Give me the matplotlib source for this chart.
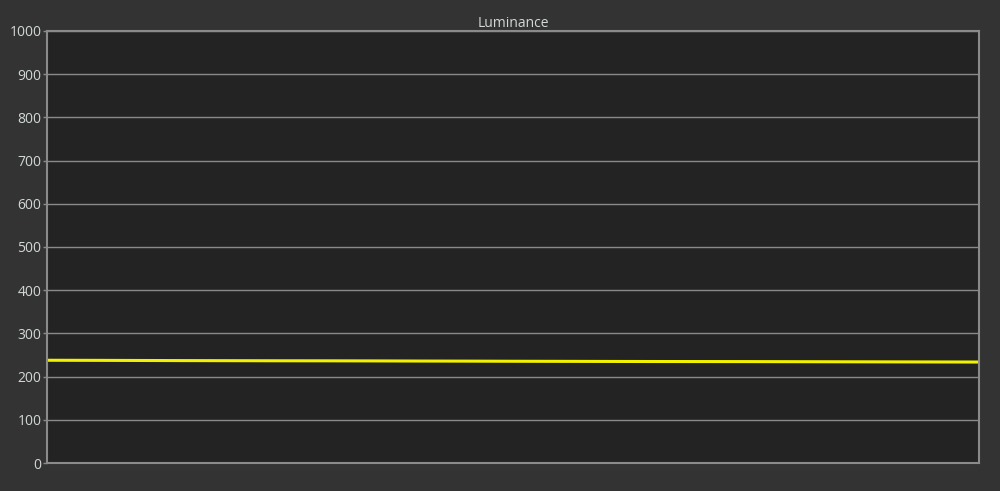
import matplotlib
matplotlib.use("Agg")
import matplotlib.pyplot as plt

plt.rcParams['font.family'] = ['Open Sans', 'DejaVu Sans']

title = "Luminance"
x_steps = list(range(21))
luminance = [237.8, 237.6, 237.3, 237.0, 236.8, 236.6, 236.5, 236.3, 236.0, 235.8,
             235.5, 235.3, 235.1, 234.9, 234.8, 234.7, 234.5, 234.3, 234.1, 233.9, 233.7]
y_ticks = [0, 100, 200, 300, 400, 500, 600, 700, 800, 900, 1000]

fig = plt.figure(figsize=(10, 4.91), dpi=100, facecolor="#333333")
ax = fig.add_axes([0.047, 0.057, 0.932, 0.88])
ax.set_facecolor("#232323")
ax.plot(x_steps, luminance, color="#f2f200", lw=2.2, solid_capstyle="butt")
ax.set_xlim(x_steps[0], x_steps[-1])
ax.set_ylim(0, 1000)
ax.set_yticks(y_ticks)
ax.set_yticklabels([str(t) for t in y_ticks])
ax.set_xticks([])
ax.grid(axis="y", color="#8a8a8a", lw=1)
ax.set_axisbelow(True)
for s in ax.spines.values():
    s.set_color("#8a8a8a")
    s.set_linewidth(1.5)
ax.tick_params(axis="y", colors="#8a8a8a", labelcolor="#d2d8d6", length=3, width=1, labelsize=10, pad=1)
ax.set_title(title, color="#d2d8d6", fontsize=10, pad=2)
fig.savefig("out.png", dpi=100, facecolor=fig.get_facecolor())
